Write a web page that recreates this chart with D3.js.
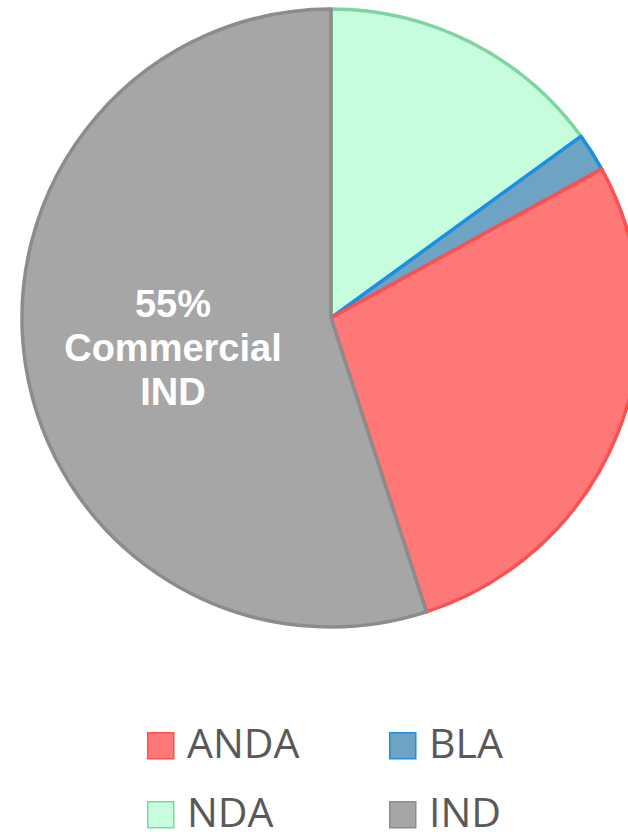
<!DOCTYPE html>
<html>
<head>
<meta charset="utf-8">
<script src="https://cdn.jsdelivr.net/npm/d3@7"></script>
<style>
  body { margin: 0; background: #fff; }
  svg { display: block; }
</style>
</head>
<body>
<div id="chart"></div>
<script>
// slice data, clockwise from 12 o'clock
var categories = ["NDA", "BLA", "ANDA", "IND"];
var shares = [15, 2, 28, 55];
var legendOrder = ["ANDA", "BLA", "NDA", "IND"];
var labelLines = ["55%", "Commercial", "IND"];

var fills = { NDA: "#c5fddd", BLA: "#6fa3c3", ANDA: "#ff7878", IND: "#a6a6a6" };
var strokes = { NDA: "#80d4a3", BLA: "#1a8fe3", ANDA: "#ff5050", IND: "#8c8c8c" };

var width = 628,
    height = 832;

var svg = d3.select("#chart")
    .append("svg")
    .attr("width", width)
    .attr("height", height);

var cx = 331, cy = 318, radius = 309;

var data = categories.map((c, i) => ({ name: c, value: shares[i] }));

var pie = d3.pie()
    .sort(null)
    .value((d) => d.value);

var arc = d3.arc()
    .innerRadius(0)
    .outerRadius(radius);

var g = svg.append("g")
    .attr("transform", `translate(${cx},${cy})`);

g.selectAll("path")
    .data(pie(data))
    .enter()
    .append("path")
    .attr("d", arc)
    .attr("fill", (d) => fills[d.data.name])
    .attr("stroke", (d) => strokes[d.data.name])
    .attr("stroke-width", 3.5)
    .attr("stroke-linejoin", "round");

// label for the big slice
var labelArc = d3.arc().innerRadius(161).outerRadius(161);
var indSlice = pie(data).find((d) => d.data.name === "IND");
var pos = labelArc.centroid(indSlice);

var label = g.append("text")
    .attr("text-anchor", "middle")
    .attr("fill", "#fff")
    .attr("font-family", "Liberation Sans, Arial, sans-serif")
    .attr("font-weight", "bold")
    .attr("font-size", 38);

label.selectAll("tspan")
    .data(labelLines)
    .enter()
    .append("tspan")
    .attr("x", pos[0] + 1)
    .attr("y", (d, i) => pos[1] + (i - 1) * 44 + 18)
    .text((d) => d);

// legend, two columns
var legend = svg.append("g");
var items = legend.selectAll("g")
    .data(legendOrder)
    .enter()
    .append("g")
    .attr("transform", (d, i) => `translate(${i % 2 ? 389 : 147},${i < 2 ? 732 : 801})`);

items.append("rect")
    .attr("x", 0.75)
    .attr("y", 0.75)
    .attr("width", 26)
    .attr("height", 26)
    .attr("fill", (d) => fills[d])
    .attr("stroke", (d) => strokes[d])
    .attr("stroke-width", 1.5);

items.append("text")
    .attr("x", 40)
    .attr("y", 25.5)
    .attr("fill", "#595959")
    .attr("font-family", "Open Sans, sans-serif")
    .attr("font-size", 41)
    .text((d) => d);
</script>
</body>
</html>
